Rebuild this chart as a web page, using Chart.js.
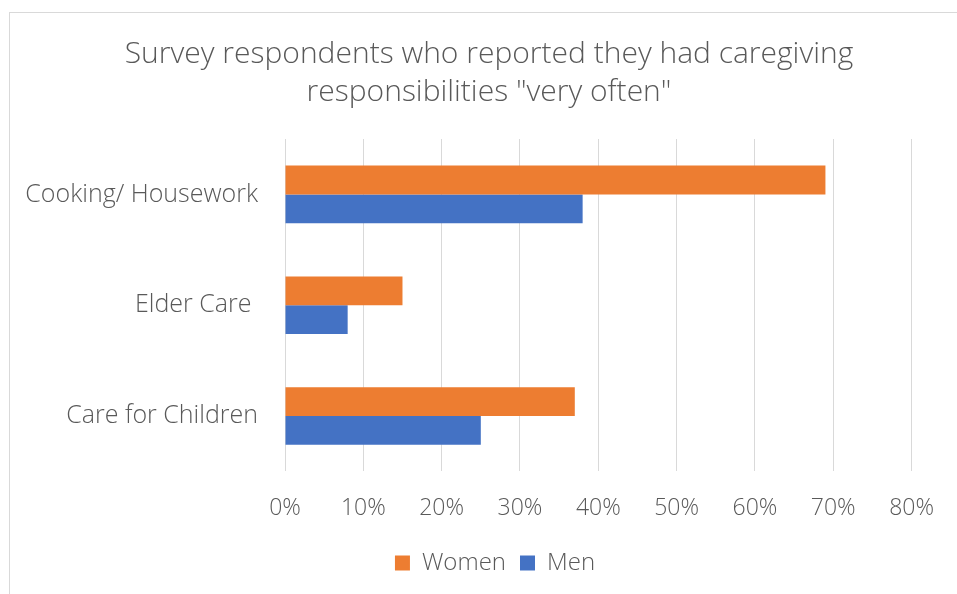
<!DOCTYPE html>
<html>
<head>
<meta charset="utf-8">
<script src="https://cdn.jsdelivr.net/npm/chart.js@4.4.0/dist/chart.umd.min.js"></script>
<style>
    html, body { margin: 0; padding: 0; background: #fff; overflow: hidden; }
    #frame { position: absolute; left: 9px; top: 12px; width: 1200px; height: 900px; border: 1px solid #d9d9d9; }
    #wrap { position: absolute; left: 0; top: 0; width: 957px; height: 594px; }
</style>
</head>
<body>
<div id="frame"></div>
<div id="wrap"><canvas id="chart" width="957" height="594"></canvas></div>
<script>
// Данные графика
const categories = ['Cooking/ Housework', 'Elder Care ', 'Care for Children'];
const women = [0.69, 0.15, 0.37];
const men = [0.38, 0.08, 0.25];
const titleLines = ['Survey respondents who reported they had caregiving', 'responsibilities "very often"'];

const textColor = '#595959';
const gridColor = '#d9d9d9';
const fontFamily = '"Open Sans", "Noto Sans", sans-serif';

// Центрируем заголовок и легенду по рамке, а не по холсту
const centerBoxes = {
    id: 'centerBoxes',
    afterLayout(chart) {
        const place = (box, cx) => {
            if (!box) return;
            const w = box.right - box.left;
            box.left = cx - w / 2;
            box.right = cx + w / 2;
        };
        place(chart.titleBlock, 489);
        place(chart.legend, 495);
    }
};

const ctx = document.getElementById('chart').getContext('2d');
new Chart(ctx, {
    type: 'bar',
    data: {
        labels: categories,
        datasets: [
            { label: 'Women', data: women, backgroundColor: '#ed7d31', barPercentage: 1, categoryPercentage: 0.52 },
            { label: 'Men', data: men, backgroundColor: '#4472c4', barPercentage: 1, categoryPercentage: 0.52 }
        ]
    },
    plugins: [centerBoxes],
    options: {
        indexAxis: 'y',
        responsive: false,
        animation: false,
        layout: { padding: { left: 10, right: 39, top: 35, bottom: 9 } },
        plugins: {
            title: {
                display: true,
                text: titleLines,
                color: textColor,
                font: { family: fontFamily, size: 30, weight: 300, lineHeight: '38px' },
                padding: { top: 0, bottom: 28 }
            },
            legend: {
                position: 'bottom',
                labels: {
                    color: textColor,
                    font: { family: fontFamily, size: 24, weight: 300 },
                    boxWidth: 15,
                    boxHeight: 15,
                    padding: 14
                }
            },
            tooltip: { enabled: false }
        },
        scales: {
            x: {
                min: 0,
                max: 0.8,
                afterFit: scale => { scale.height -= 8; },
                ticks: {
                    stepSize: 0.1,
                    color: textColor,
                    font: { family: fontFamily, size: 23, weight: 300 },
                    padding: 23,
                    callback: v => Math.round(v * 100) + '%'
                },
                grid: { color: gridColor, drawTicks: false },
                border: { display: false }
            },
            y: {
                afterFit: scale => { scale.width = 275; },
                ticks: {
                    color: textColor,
                    font: { family: fontFamily, size: 25, weight: 300 },
                    padding: 19
                },
                grid: { display: false },
                border: { display: false }
            }
        }
    }
});
</script>
</body>
</html>
